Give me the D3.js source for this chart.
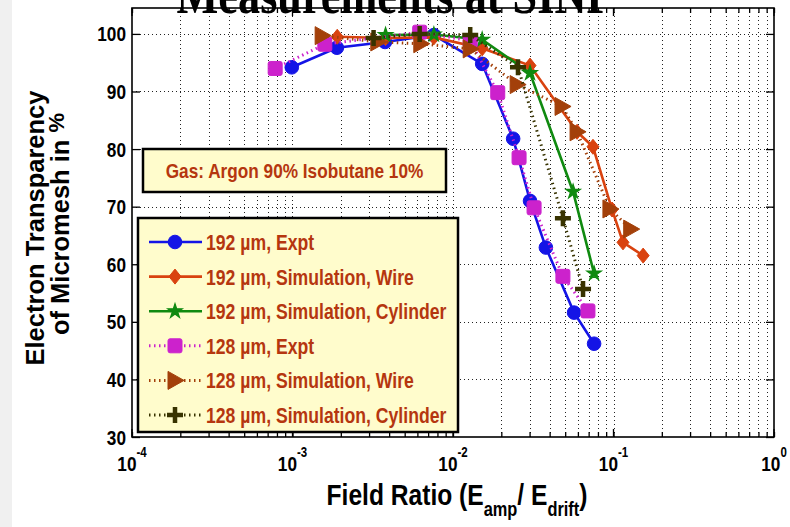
<!DOCTYPE html>
<html><head><meta charset="utf-8">
<script src="https://cdn.jsdelivr.net/npm/d3@7"></script>
<style>body{margin:0;background:#fff}svg{display:block}</style>
</head><body>
<svg id="chart" width="790" height="527"></svg>
<script>
// Axis ticks
const xTickVals = [1e-4, 1e-3, 1e-2, 1e-1, 1];
const xTickExps = ["-4", "-3", "-2", "-1", "0"];
const yTickVals = [30, 40, 50, 60, 70, 80, 90, 100];

// 192 µm, Expt
const expt192X = [0.00099, 0.00189, 0.00377, 0.0076, 0.0152, 0.0237, 0.0302, 0.0379, 0.0568, 0.0757];
const expt192Y = [94.2, 97.6, 98.6, 99.8, 94.8, 81.8, 71.0, 62.9, 51.6, 46.2];
// 192 µm, Simulation, Wire
const wire192X = [0.0019, 0.0038, 0.0076, 0.0152, 0.0302, 0.0593, 0.0745, 0.098, 0.1146, 0.153];
const wire192Y = [99.5, 99.3, 99.4, 97.5, 94.5, 83.0, 80.4, 69.5, 63.8, 61.5];
// 192 µm, Simulation, Cylinder
const cyl192X = [0.0038, 0.0076, 0.0152, 0.0302, 0.056, 0.0757];
const cyl192Y = [99.8, 99.9, 99.0, 93.2, 72.6, 58.4];
// 128 µm, Expt
const expt128X = [0.00078, 0.00159, 0.0062, 0.0128, 0.019, 0.0258, 0.032, 0.0484, 0.0693];
const expt128Y = [94.0, 98.2, 100.3, 98.8, 89.8, 78.5, 69.8, 57.9, 51.9];
// 128 µm, Simulation, Wire
const wire128X = [0.00153, 0.0034, 0.0063, 0.0128, 0.0251, 0.0478, 0.0593, 0.095, 0.128];
const wire128Y = [99.7, 98.6, 98.3, 97.4, 91.2, 87.4, 83.0, 69.6, 66.1];
// 128 µm, Simulation, Cylinder
const cyl128X = [0.0032, 0.0062, 0.0128, 0.0254, 0.0484, 0.0646];
const cyl128Y = [99.3, 100.0, 99.8, 94.2, 68.0, 55.7];

const legendLabels = [
  "192 µm, Expt",
  "192 µm, Simulation, Wire",
  "192 µm, Simulation, Cylinder",
  "128 µm, Expt",
  "128 µm, Simulation, Wire",
  "128 µm, Simulation, Cylinder"
];

const series = [
  {x: expt192X, y: expt192Y, color: "#1414e6", dotted: false, marker: "circle"},
  {x: wire192X, y: wire192Y, color: "#d9420f", dotted: false, marker: "diamond"},
  {x: cyl192X,  y: cyl192Y,  color: "#108a10", dotted: false, marker: "star"},
  {x: expt128X, y: expt128Y, color: "#cc22cc", dotted: true,  marker: "square"},
  {x: wire128X, y: wire128Y, color: "#a3400a", dotted: true,  marker: "triangle"},
  {x: cyl128X,  y: cyl128Y,  color: "#383300", dotted: true,  marker: "plus"}
];

const svg = d3.select("#chart");
const W = 790, H = 527;
const plot = {left: 132, right: 774, top: 8, bottom: 437};
const SQ = 0.82; // horizontal condensing of sans text

const x = d3.scaleLog().domain([1e-4, 1]).range([plot.left, plot.right]);
const y = d3.scaleLinear().domain([30, 104.5]).range([plot.bottom, plot.top]);

svg.append("rect").attr("width", W).attr("height", H).attr("fill", "#fff");
svg.append("rect").attr("x", 0).attr("y", 0).attr("width", 12).attr("height", H).attr("fill", "#f0f0f0");

function sText(parent, px, py, anchor, size, color) {
  return parent.append("text")
    .attr("transform", `translate(${px},${py}) scale(${SQ},1)`)
    .attr("text-anchor", anchor)
    .attr("font-family", "'Liberation Sans', Arial, sans-serif")
    .attr("font-weight", "bold")
    .attr("font-size", size)
    .attr("fill", color || "#000");
}

// Grid
const grid = svg.append("g").attr("stroke", "#222").attr("stroke-width", 1)
  .attr("stroke-dasharray", "1,3").attr("fill", "none");
yTickVals.filter(v => v > 30).forEach(v => {
  grid.append("line").attr("x1", plot.left).attr("x2", plot.right)
    .attr("y1", Math.round(y(v)) + 0.5).attr("y2", Math.round(y(v)) + 0.5);
});
const xMinor = [];
for (let d = -4; d < 0; d++) for (let k = 1; k <= 9; k++) xMinor.push(k * Math.pow(10, d));
xMinor.filter(v => v > 1e-4).forEach(v => {
  grid.append("line").attr("x1", Math.round(x(v)) + 0.5).attr("x2", Math.round(x(v)) + 0.5)
    .attr("y1", plot.top).attr("y2", plot.bottom);
});

// Axes (ticks pointing inward on all sides)
const axB = d3.axisBottom(x).tickValues(xMinor.concat([1])).tickSizeInner(-5).tickSizeOuter(0).tickFormat("");
const axT = d3.axisTop(x).tickValues(xMinor.concat([1])).tickSizeInner(-5).tickSizeOuter(0).tickFormat("");
const axL = d3.axisLeft(y).tickValues(yTickVals).tickSizeInner(-8).tickSizeOuter(0).tickFormat("");
const axR = d3.axisRight(y).tickValues(yTickVals).tickSizeInner(-8).tickSizeOuter(0).tickFormat("");
[[axB, `translate(0,${plot.bottom})`], [axT, `translate(0,${plot.top})`],
 [axL, `translate(${plot.left},0)`], [axR, `translate(${plot.right},0)`]].forEach(([a, t]) => {
  const g = svg.append("g").attr("transform", t).call(a);
  g.select(".domain").remove();
  g.selectAll("line").attr("stroke", "#000").attr("stroke-width", 1.3);
});
// major decade ticks longer
xTickVals.forEach(v => {
  [[plot.bottom, -8], [plot.top, 8]].forEach(([yy, dl]) => {
    svg.append("line").attr("x1", x(v)).attr("x2", x(v)).attr("y1", yy).attr("y2", yy + dl)
      .attr("stroke", "#000").attr("stroke-width", 1.3);
  });
});
svg.append("rect").attr("x", plot.left).attr("y", plot.top)
  .attr("width", plot.right - plot.left).attr("height", plot.bottom - plot.top)
  .attr("fill", "none").attr("stroke", "#000").attr("stroke-width", 1.6);

// Tick labels
yTickVals.forEach(v => {
  sText(svg, 126, y(v) + 7.5, "end", 21).text(v);
});
xTickVals.forEach((v, i) => {
  const t = sText(svg, x(v), 471, "middle", 21);
  t.append("tspan").text("10");
  t.append("tspan").attr("dy", -14).attr("font-size", 14).text(xTickExps[i]);
});

// Axis titles
const xl = sText(svg, (plot.left + plot.right) / 2 + 4, 505, "middle", 30);
xl.append("tspan").text("Field Ratio (E");
xl.append("tspan").attr("font-size", 20).attr("dy", 11).text("amp");
xl.append("tspan").attr("dy", -11).text("/ E");
xl.append("tspan").attr("font-size", 20).attr("dy", 11).text("drift");
xl.append("tspan").attr("dy", -11).text(")");

function yLabel(bx, cy) {
  return svg.append("text")
    .attr("transform", `translate(${bx},${cy}) rotate(-90)`)
    .attr("text-anchor", "middle")
    .attr("font-family", "'Liberation Sans', Arial, sans-serif")
    .attr("font-weight", "bold").attr("font-size", 25.5);
}
yLabel(44, 228).text("Electron Transparency");
const yl2 = yLabel(69, 224);
yl2.append("tspan").text("of Micromesh in ");
yl2.append("tspan").attr("dy", -5).attr("font-size", 22).text("%");

// Markers
function drawMarker(g, type, color, cx, cy) {
  const m = g.append("g").attr("transform", `translate(${cx},${cy})`);
  if (type === "circle") {
    m.append("circle").attr("r", 6.8).attr("fill", color).attr("stroke", color).attr("stroke-width", 1);
  } else if (type === "diamond") {
    m.append("path").attr("d", "M0,-7.5L6,0L0,7.5L-6,0Z").attr("fill", color).attr("stroke", color).attr("stroke-width", 1);
  } else if (type === "star") {
    m.append("path").attr("d", d3.symbol(d3.symbolStar, 65)()).attr("fill", color).attr("stroke", color).attr("stroke-width", 1.2);
  } else if (type === "square") {
    m.append("rect").attr("x", -7).attr("y", -7).attr("width", 14).attr("height", 14).attr("rx", 2)
      .attr("fill", color).attr("stroke", color).attr("stroke-width", 1);
  } else if (type === "triangle") {
    m.append("path").attr("d", "M-7,-9L9,0L-7,9Z").attr("fill", color).attr("stroke", color).attr("stroke-width", 1);
  } else if (type === "plus") {
    m.append("path").attr("d", "M-8,0H8M0,-8V8").attr("stroke", color).attr("stroke-width", 4.5).attr("fill", "none");
  }
}

// Data series
const lineGen = d3.line().x(d => x(d[0])).y(d => y(d[1]));
series.forEach(s => {
  const pts = s.x.map((v, i) => [v, s.y[i]]);
  svg.append("path").datum(pts).attr("d", lineGen).attr("fill", "none")
    .attr("stroke", s.color).attr("stroke-width", s.dotted ? 3 : 2.6)
    .attr("stroke-dasharray", s.dotted ? "1.5,3.5" : null);
  const mg = svg.append("g");
  pts.forEach(p => drawMarker(mg, s.marker, s.color, x(p[0]), y(p[1])));
});

// Gas annotation box
svg.append("rect").attr("x", 143).attr("y", 149).attr("width", 303).attr("height", 43)
  .attr("fill", "#fffccc").attr("stroke", "#000").attr("stroke-width", 2.5);
sText(svg, 294.5, 178, "middle", 21, "#b5360f").text("Gas: Argon 90% Isobutane 10%");

// Legend
svg.append("rect").attr("x", 138).attr("y", 218).attr("width", 320).attr("height", 214)
  .attr("fill", "#fffccc").attr("stroke", "#000").attr("stroke-width", 2.5);
series.forEach((s, i) => {
  const cy = 242 + i * 34.6;
  svg.append("line").attr("x1", 149).attr("x2", 202).attr("y1", cy).attr("y2", cy)
    .attr("stroke", s.color).attr("stroke-width", s.dotted ? 3 : 2.6)
    .attr("stroke-dasharray", s.dotted ? "1.5,3.5" : null);
  drawMarker(svg, s.marker, s.color, 175, cy);
  sText(svg, 206, cy + 8, "start", 21.5, "#b5360f").text(legendLabels[i]);
});

// Title
svg.append("text").attr("transform", `translate(395,13) scale(${SQ},1)`)
  .attr("text-anchor", "middle")
  .attr("font-family", "'Liberation Serif', 'Times New Roman', serif")
  .attr("font-weight", "bold").attr("font-size", 54).text("Measurements at SINP");
</script>
</body></html>
